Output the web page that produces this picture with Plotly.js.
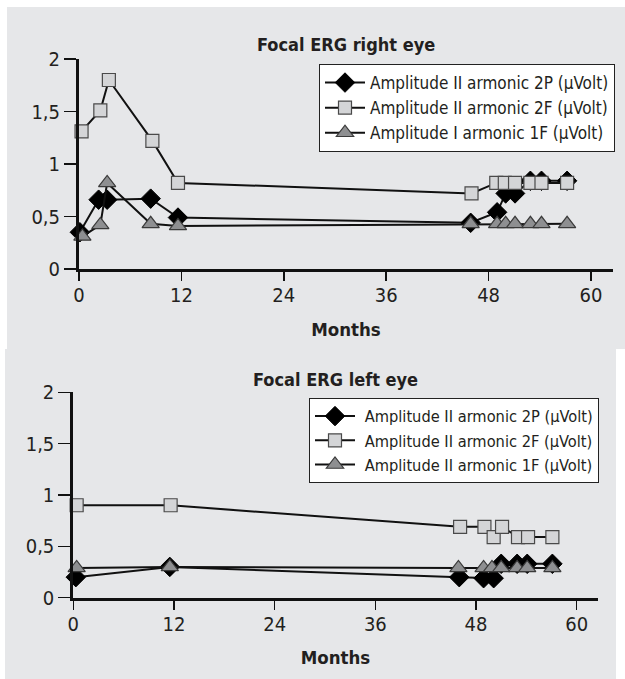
<!DOCTYPE html>
<html>
<head>
<meta charset="utf-8">
<script src="https://cdn.plot.ly/plotly-3.0.1.min.js"></script>
<style>html,body{margin:0;padding:0;background:#fff;}#chart{width:625px;height:679px;}</style>
</head>
<body>
<div id="chart"></div>
<script>
// ---- Data ----
const seriesNamesRight = ["Amplitude II armonic 2P (µVolt)", "Amplitude II armonic 2F (µVolt)", "Amplitude I armonic 1F (µVolt)"];
const seriesNamesLeft = [" Amplitude II armonic 2P (µVolt)", " Amplitude II armonic 2F (µVolt)", " Amplitude II armonic 1F (µVolt)"];

const monthsR2P = [0.1, 2.3, 3.3, 8.4, 11.6, 45.9, 49.0, 50.0, 51.1, 52.9, 54.2, 57.2];
const ampR2P    = [0.35, 0.66, 0.66, 0.67, 0.49, 0.44, 0.54, 0.72, 0.72, 0.84, 0.84, 0.84];
const monthsR2F = [0.3, 2.5, 3.5, 8.6, 11.6, 46.0, 48.9, 49.9, 51.1, 52.9, 54.2, 57.2];
const ampR2F    = [1.31, 1.51, 1.8, 1.22, 0.82, 0.72, 0.82, 0.82, 0.82, 0.82, 0.82, 0.82];
const monthsR1F = [0.4, 2.5, 3.3, 8.4, 11.6, 45.9, 49.0, 50.0, 51.1, 52.9, 54.2, 57.2];
const ampR1F    = [0.31, 0.42, 0.82, 0.43, 0.41, 0.43, 0.43, 0.43, 0.43, 0.43, 0.43, 0.43];

const monthsL2P = [0.3, 11.5, 46.0, 48.9, 50.1, 51.0, 52.9, 54.1, 57.1];
const ampL2P    = [0.2, 0.3, 0.2, 0.19, 0.19, 0.33, 0.33, 0.33, 0.33];
const monthsL2F = [0.4, 11.6, 46.1, 49.0, 50.1, 51.1, 53.0, 54.2, 57.1];
const ampL2F    = [0.9, 0.9, 0.69, 0.69, 0.59, 0.69, 0.59, 0.59, 0.59];
const monthsL1F = [0.4, 11.5, 45.9, 48.9, 49.9, 51.0, 52.9, 54.1, 57.1];
const ampL1F    = [0.29, 0.3, 0.29, 0.29, 0.29, 0.29, 0.29, 0.29, 0.29];

const xTickVals = [0, 12, 24, 36, 48, 60];
const yTickVals = [0, 0.5, 1, 1.5, 2];
const yTickText = ["0", "0,5", "1", "1,5", "2"];

// ---- Styles ----
const FONT = "'Liberation Sans Narrow', 'DejaVu Sans Condensed', 'Arial Narrow', sans-serif";
const TXT = "#231f20";
const LINE = {color: "#111", width: 2};
const mk2P = {symbol: "diamond", size: 15, color: "#000", line: {color: "#000", width: 1}};
const mk2F = {symbol: "square", size: 13, color: "#d4d5d7", line: {color: "#4a4a4a", width: 1.2}};
const mk1F = {symbol: "triangle-up", size: 15, color: "#8e8f91", line: {color: "#3a3a3a", width: 1.2}};

function tr(x, y, name, marker, xa, ya, legend) {
  return {x: x, y: y, name: name, type: "scatter", mode: "lines+markers",
          line: LINE, marker: marker, xaxis: xa, yaxis: ya, legend: legend, cliponaxis: false};
}

const data = [
  tr(monthsR2P, ampR2P, seriesNamesRight[0], mk2P, "x", "y", "legend"),
  tr(monthsR2F, ampR2F, seriesNamesRight[1], mk2F, "x", "y", "legend"),
  tr(monthsR1F, ampR1F, seriesNamesRight[2], mk1F, "x", "y", "legend"),
  tr(monthsL2P, ampL2P, seriesNamesLeft[0], mk2P, "x2", "y2", "legend2"),
  tr(monthsL2F, ampL2F, seriesNamesLeft[1], mk2F, "x2", "y2", "legend2"),
  tr(monthsL1F, ampL1F, seriesNamesLeft[2], mk1F, "x2", "y2", "legend2")
];

const W = 625, H = 679;
const px = v => v / W;
const py = v => 1 - v / H;

function xAxis(d0, d1, rmax, anchor, standoff) {
  return {domain: [px(d0), px(d1)], range: [0, rmax], anchor: anchor,
          tickvals: xTickVals, ticks: "outside", ticklen: 9, tickwidth: 1.5, tickcolor: "#111",
          showline: true, linewidth: 3, linecolor: "#111", showgrid: false, zeroline: false,
          ticklabelstandoff: -3,
          tickfont: {family: FONT, size: 20, color: TXT},
          title: {text: "<b>Months</b>", font: {family: FONT, size: 18.5, color: TXT}, standoff: standoff},
          fixedrange: true};
}
function yAxis(d0, d1, anchor) {
  return {domain: [py(d1), py(d0)], range: [0, 2], anchor: anchor,
          tickvals: yTickVals, ticktext: yTickText, ticks: "outside", ticklen: 12, tickwidth: 1.5, tickcolor: "#111",
          showline: true, linewidth: 3, linecolor: "#111", showgrid: false, zeroline: false,
          tickfont: {family: FONT, size: 20, color: TXT}, fixedrange: true};
}

const layout = {
  width: W, height: H,
  margin: {l: 0, r: 0, t: 0, b: 0},
  paper_bgcolor: "#ffffff",
  plot_bgcolor: "rgba(0,0,0,0)",
  showlegend: true,
  xaxis: xAxis(79, 613, 62.58, "y", 18),
  yaxis: yAxis(59, 269, "x"),
  xaxis2: xAxis(73.3, 597.7, 62.5, "y2", 17),
  yaxis2: yAxis(392.3, 597.7, "x2"),
  legend: {x: px(319), y: py(64), xanchor: "left", yanchor: "top",
           bgcolor: "#ffffff", bordercolor: "#222", borderwidth: 1,
           font: {family: FONT, size: 17, color: TXT}, itemwidth: 40},
  legend2: {x: px(309), y: py(398), xanchor: "left", yanchor: "top",
            bgcolor: "#ffffff", bordercolor: "#222", borderwidth: 1,
            font: {family: FONT, size: 16.3, color: TXT}, itemwidth: 40},
  shapes: [
    {type: "rect", xref: "paper", yref: "paper", x0: px(7), x1: 1, y0: py(349), y1: py(7),
     fillcolor: "#e6e7e9", line: {width: 0}, layer: "below"},
    {type: "rect", xref: "paper", yref: "paper", x0: px(5), x1: px(616), y0: 0, y1: py(349),
     fillcolor: "#e6e7e9", line: {width: 0}, layer: "below"}
  ],
  annotations: [
    {text: "<b>Focal ERG right eye</b>", xref: "x domain", yref: "paper", x: 0.5, y: py(45),
     xanchor: "center", yanchor: "middle", showarrow: false, font: {family: FONT, size: 18, color: TXT}},
    {text: "<b>Focal ERG left eye</b>", xref: "x2 domain", yref: "paper", x: 0.5, y: py(379),
     xanchor: "center", yanchor: "middle", showarrow: false, font: {family: FONT, size: 18, color: TXT}}
  ]
};

Plotly.newPlot("chart", data, layout, {staticPlot: true, displayModeBar: false});
</script>
</body>
</html>
